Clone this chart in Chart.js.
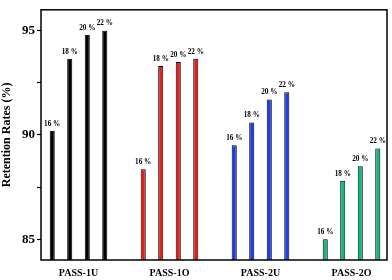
<!DOCTYPE html>
<html>
<head>
<meta charset="utf-8">
<script src="https://cdn.jsdelivr.net/npm/chart.js@4"></script>
<style>
  html, body { margin: 0; padding: 0; background: #fff; }
  #wrap { width: 392px; height: 280px; }
</style>
</head>
<body>
<div id="wrap"><canvas id="chart"></canvas></div>
<script>
// --- data ---
const samples = ['PASS-1U', 'PASS-1O', 'PASS-2U', 'PASS-2O'];
const contents = ['16 %', '18 %', '20 %', '22 %'];
const rate16 = [90.2, 88.35, 89.5, 85.0];
const rate18 = [93.65, 93.3, 90.6, 87.8];
const rate20 = [94.8, 93.5, 91.7, 88.5];
const rate22 = [95.0, 93.65, 92.05, 89.35];
const sampleColors = ['#000000', '#e3201b', '#1f3ee8', '#12b87a'];

const FONT = '"Liberation Serif", "Times New Roman", serif';

const series = [rate16, rate18, rate20, rate22];

// labels over each bar (a bit narrow, like the original) + frame round the plot
const barLabels = {
    id: 'barLabels',
    afterDatasetsDraw(chart) {
        const ctx = chart.ctx;
        chart.data.datasets.forEach((ds, i) => {
            chart.getDatasetMeta(i).data.forEach(bar => {
                ctx.save();
                ctx.translate(bar.x, bar.y - 3);
                ctx.scale(0.8, 1);
                ctx.font = 'bold 9px ' + FONT;
                ctx.fillStyle = '#000';
                ctx.textAlign = 'center';
                ctx.textBaseline = 'bottom';
                ctx.fillText(ds.label, 0, 0);
                ctx.restore();
            });
        });
    },
    afterDraw(chart) {
        const a = chart.chartArea;
        const ctx = chart.ctx;
        ctx.save();
        ctx.strokeStyle = '#000';
        ctx.lineWidth = 1.5;
        ctx.strokeRect(a.left, a.top, a.right - a.left, a.bottom - a.top);
        ctx.restore();
    }
};

new Chart(document.getElementById('chart'), {
    type: 'bar',
    data: {
        datasets: series.map((vals, i) => ({
            label: contents[i],
            data: vals.map((v, k) => ({ x: k, y: v })),
            backgroundColor: sampleColors,
            borderColor: '#000',
            borderWidth: 1,
            categoryPercentage: 0.77,
            barPercentage: 0.29
        }))
    },
    options: {
        responsive: true,
        maintainAspectRatio: false,
        animation: false,
        layout: { padding: { top: 2, right: 5, left: 0, bottom: 0 } },
        plugins: {
            legend: { display: false },
            tooltip: { enabled: false }
        },
        scales: {
            x: {
                type: 'linear',
                offset: false,
                min: -0.412,
                max: 3.39,
                grid: { display: false, drawTicks: false, offset: false },
                border: { display: false },
                ticks: {
                    stepSize: 1,
                    includeBounds: false,
                    padding: 7,
                    color: '#000',
                    font: { family: FONT, size: 10, weight: 'bold' },
                    callback: (v) => samples[v] ?? ''
                },
                afterFit: (s) => { s.height = 20; }
            },
            y: {
                min: 84,
                max: 96,
                grid: { drawOnChartArea: false, tickLength: 4, color: '#000', tickWidth: 1.2 },
                border: { display: false },
                ticks: {
                    stepSize: 2.5,
                    includeBounds: false,
                    padding: 2,
                    color: '#000',
                    font: { family: FONT, size: 13, weight: 'bold' },
                    callback: (v) => (v % 5 === 0 ? v : '')
                },
                title: {
                    display: true,
                    text: 'Retention Rates (%)',
                    color: '#000',
                    padding: { top: 0, bottom: 0 },
                    font: { family: FONT, size: 12, weight: 'bold' }
                },
                afterFit: (s) => { s.width = 41; }
            }
        }
    },
    plugins: [barLabels]
});
</script>
</body>
</html>
